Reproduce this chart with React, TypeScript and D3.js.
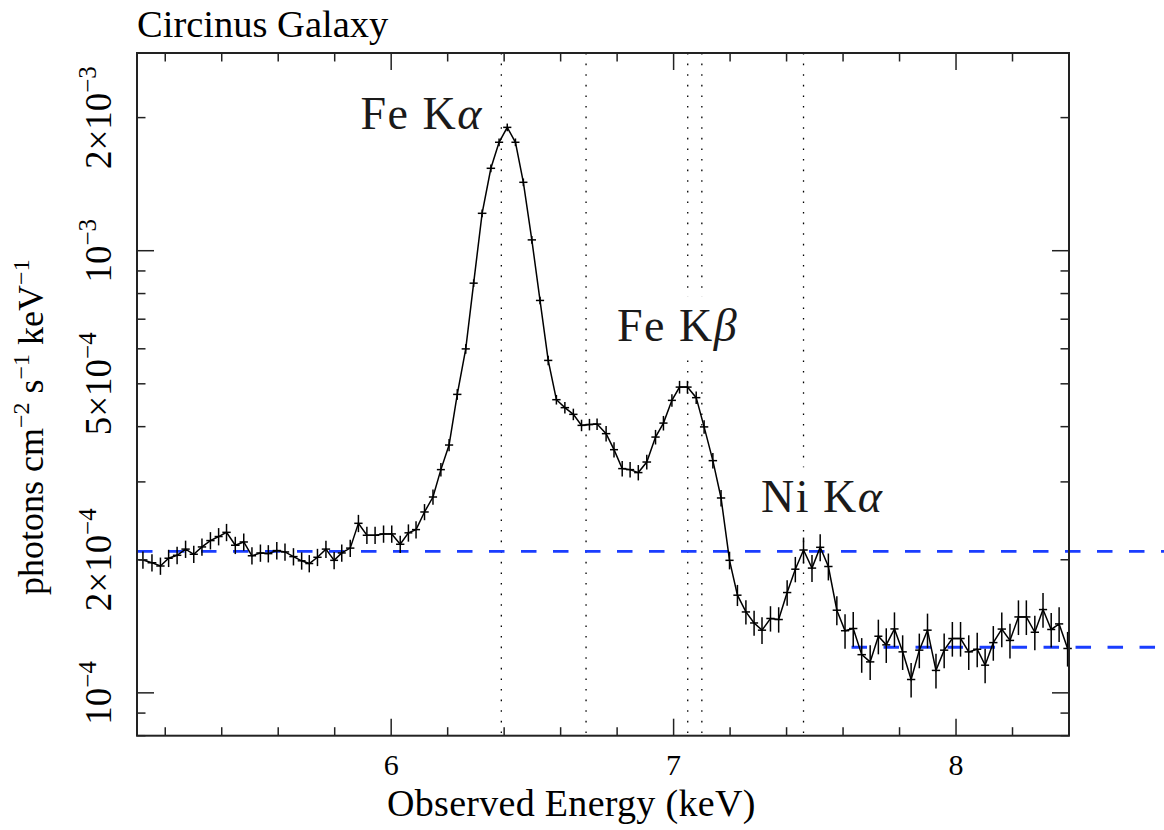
import React, { useEffect, useRef } from 'react';
import * as d3 from 'd3';

// bin centres (keV)
const energy = [
    5.121, 5.153, 5.183, 5.212, 5.242, 5.272, 5.301, 5.330, 5.360, 5.389,
    5.417, 5.448, 5.478, 5.507, 5.537, 5.565, 5.595, 5.624, 5.654, 5.683,
    5.710, 5.739, 5.769, 5.798, 5.825, 5.855, 5.884, 5.914, 5.943, 5.973,
    6.002, 6.032, 6.061, 6.088, 6.118, 6.148, 6.176, 6.205, 6.234, 6.264,
    6.292, 6.322, 6.353, 6.382, 6.411, 6.440, 6.468, 6.498, 6.527, 6.556,
    6.585, 6.615, 6.645, 6.674, 6.702, 6.729, 6.761, 6.789, 6.818, 6.846,
    6.875, 6.905, 6.936, 6.964, 6.994, 7.021, 7.049, 7.080, 7.108, 7.139,
    7.168, 7.198, 7.226, 7.256, 7.285, 7.313, 7.343, 7.372, 7.402, 7.431,
    7.460, 7.490, 7.519, 7.548, 7.578, 7.607, 7.636, 7.666, 7.696, 7.725,
    7.753, 7.782, 7.811, 7.841, 7.870, 7.899, 7.929, 7.958, 7.987, 8.016,
    8.045, 8.075, 8.103, 8.132, 8.162, 8.191, 8.221, 8.249, 8.279, 8.308,
    8.337, 8.365, 8.395,
];

// flux in units of 1e-4 photons cm^-2 s^-1 keV^-1
const flux1e4 = [
    1.998, 1.969, 1.936, 2.016, 2.047, 2.114, 2.058, 2.138, 2.210, 2.257,
    2.307, 2.157, 2.194, 2.042, 2.072, 2.065, 2.098, 2.083, 2.033, 1.989,
    1.961, 2.026, 2.114, 1.994, 2.072, 2.125, 2.418, 2.272, 2.272, 2.288,
    2.288, 2.168, 2.301, 2.340, 2.565, 2.773, 3.198, 3.635, 4.732, 5.997,
    8.445, 12.15, 15.36, 17.59, 19.01, 17.59, 14.28, 10.58, 7.718, 5.648,
    4.603, 4.416, 4.265, 4.027, 4.044, 4.054, 3.857, 3.548, 3.215, 3.198,
    3.149, 3.327, 3.789, 4.075, 4.587, 4.915, 4.915, 4.652, 3.995, 3.351,
    2.759, 1.994, 1.663, 1.524, 1.439, 1.386, 1.473, 1.465, 1.686, 1.904,
    2.104, 1.915, 2.134, 1.931, 1.538, 1.382, 1.398, 1.220, 1.175, 1.343,
    1.284, 1.395, 1.238, 1.072, 1.249, 1.386, 1.124, 1.249, 1.327, 1.327,
    1.238, 1.255, 1.155, 1.299, 1.394, 1.314, 1.485, 1.485, 1.371, 1.543,
    1.391, 1.432, 1.260,
];

// relative 1-sigma errors
const relErr = [
    0.045, 0.045, 0.045, 0.045, 0.045, 0.045, 0.045, 0.045, 0.045, 0.045,
    0.045, 0.045, 0.045, 0.045, 0.045, 0.045, 0.045, 0.045, 0.045, 0.045,
    0.045, 0.045, 0.045, 0.045, 0.045, 0.045, 0.045, 0.045, 0.045, 0.045,
    0.045, 0.045, 0.045, 0.045, 0.042, 0.040, 0.035, 0.032, 0.028, 0.025,
    0.020, 0.020, 0.020, 0.020, 0.020, 0.020, 0.020, 0.020, 0.020, 0.025,
    0.025, 0.030, 0.030, 0.030, 0.030, 0.030, 0.040, 0.040, 0.040, 0.040,
    0.040, 0.038, 0.038, 0.038, 0.033, 0.033, 0.033, 0.033, 0.035, 0.040,
    0.043, 0.046, 0.055, 0.063, 0.065, 0.069, 0.066, 0.066, 0.066, 0.066,
    0.067, 0.070, 0.070, 0.070, 0.075, 0.090, 0.090, 0.090, 0.090, 0.090,
    0.090, 0.090, 0.090, 0.090, 0.090, 0.090, 0.090, 0.090, 0.090, 0.090,
    0.090, 0.090, 0.090, 0.090, 0.090, 0.090, 0.090, 0.090, 0.090, 0.090,
    0.090, 0.090, 0.090,
];

// line energies (observed frame)
const lineEnergies = [6.39, 6.69, 7.05, 7.10, 7.46];

// continuum levels, with energy extent
const contLevels = [2.09e-4, 1.268e-4];
const contFrom = [5.1, 7.63];
const contTo = [8.75, 8.75];

// line labels
const labelNames = ['Fe K', 'Fe K', 'Ni K'];
const labelGreek = ['α', 'β', 'α'];
const labelEnergy = [6.108, 7.014, 7.526];
const labelFlux = [1.889e-3, 6.235e-4, 2.561e-4];

const xMajor = [6, 7, 8];
const yLabelled = [1e-4, 2e-4, 5e-4, 1e-3, 2e-3];
const yLabelBase = ['10', '2×10', '5×10', '10', '2×10'];
const yLabelExp = ['−4', '−4', '−4', '−3', '−3'];

const W = 1164;
const H = 830;
const margin = { top: 53, right: 95, bottom: 94.3, left: 137 };
const FONT = "'Liberation Serif', 'Times New Roman', serif";
const BLUE = '#1a3dff';

const App: React.FC = () => {
    const svgRef = useRef<SVGSVGElement | null>(null);

    useEffect(() => {
        const svg = d3.select(svgRef.current);
        svg.selectAll('*').remove();

        const x = d3.scaleLinear().domain([5.1, 8.4]).range([margin.left, W - margin.right]);
        const y = d3.scaleLog().domain([8e-5, 2.8e-3]).range([H - margin.bottom, margin.top]);
        const [x0, x1] = x.range();
        const [y0, y1] = y.range();

        const data = energy.map((e, i) => {
            const n = energy.length;
            const span = i === 0 ? energy[1] - energy[0]
                : i === n - 1 ? energy[n - 1] - energy[n - 2]
                : (energy[i + 1] - energy[i - 1]) / 2;
            return { e, f: flux1e4[i] * 1e-4, err: relErr[i], hw: span / 2 };
        });

        svg.append('rect').attr('width', W).attr('height', H).attr('fill', '#fff');

        // dotted line markers
        svg.append('g')
            .selectAll('line')
            .data(lineEnergies)
            .join('line')
            .attr('x1', d => x(d)).attr('x2', d => x(d))
            .attr('y1', y1).attr('y2', y0)
            .attr('stroke', '#000')
            .attr('stroke-width', 1.3)
            .attr('stroke-dasharray', '1.6,9');

        // labels with white boxes
        const lab = svg.append('g');
        labelNames.forEach((name, i) => {
            const g = lab.append('g');
            const t = g.append('text')
                .attr('x', x(labelEnergy[i]))
                .attr('y', y(labelFlux[i]))
                .attr('text-anchor', 'middle')
                .attr('font-family', FONT)
                .attr('font-size', 46)
                .attr('letter-spacing', 1.5)
                .attr('fill', '#1a1a1a');
            t.append('tspan').text(name);
            t.append('tspan').attr('font-style', 'italic').text(labelGreek[i]);
            const bb = (t.node() as SVGTextElement).getBBox();
            g.insert('rect', 'text')
                .attr('x', bb.x - 3).attr('y', bb.y - 4)
                .attr('width', bb.width + 6).attr('height', bb.height + 6)
                .attr('fill', '#fff');
        });

        // continuum levels
        svg.append('g')
            .selectAll('line')
            .data(contLevels)
            .join('line')
            .attr('x1', (d, i) => x(contFrom[i]))
            .attr('x2', (d, i) => x(contTo[i]))
            .attr('y1', d => y(d)).attr('y2', d => y(d))
            .attr('stroke', BLUE)
            .attr('stroke-width', 2.8)
            .attr('stroke-dasharray', '15.5,16.5');

        // spectrum
        const line = d3.line<typeof data[number]>()
            .x(d => x(d.e))
            .y(d => y(d.f));

        svg.append('path')
            .datum(data)
            .attr('fill', 'none')
            .attr('stroke', '#000')
            .attr('stroke-width', 1.5)
            .attr('d', line);

        const bars = svg.append('g').attr('stroke', '#000').attr('stroke-width', 1.5);
        bars.selectAll('line.h')
            .data(data)
            .join('line')
            .attr('class', 'h')
            .attr('x1', d => x(d.e - d.hw)).attr('x2', d => x(d.e + d.hw))
            .attr('y1', d => y(d.f)).attr('y2', d => y(d.f));
        bars.selectAll('line.v')
            .data(data)
            .join('line')
            .attr('class', 'v')
            .attr('x1', d => x(d.e)).attr('x2', d => x(d.e))
            .attr('y1', d => y(d.f * (1 - d.err))).attr('y2', d => y(d.f * (1 + d.err)));

        // frame + ticks
        const axis = svg.append('g').attr('stroke', '#222').attr('stroke-width', 1.5);
        const xMinor = d3.range(5.2, 8.41, 0.2).filter(v => !xMajor.some(m => Math.abs(m - v) < 1e-6));
        const tickX = (v: number, len: number) => {
            axis.append('line').attr('x1', x(v)).attr('x2', x(v)).attr('y1', y0).attr('y2', y0 - len);
            axis.append('line').attr('x1', x(v)).attr('x2', x(v)).attr('y1', y1).attr('y2', y1 + len);
        };
        xMajor.forEach(v => tickX(v, 17));
        xMinor.forEach(v => tickX(v, 8.5));

        const yMinor: number[] = [];
        [1e-5, 1e-4, 1e-3].forEach(dec => {
            for (let m = 1; m <= 9; m++) {
                const v = m * dec;
                if (v >= 8e-5 && v <= 2.8e-3) yMinor.push(v);
            }
        });
        yMinor.forEach(v => {
            const len = Math.abs(Math.log10(v) - Math.round(Math.log10(v))) < 1e-6 ? 17 : 8.5;
            axis.append('line').attr('x1', x0).attr('x2', x0 + len).attr('y1', y(v)).attr('y2', y(v));
            axis.append('line').attr('x1', x1).attr('x2', x1 - len).attr('y1', y(v)).attr('y2', y(v));
        });

        svg.append('rect')
            .attr('x', x0).attr('y', y1)
            .attr('width', x1 - x0).attr('height', y0 - y1)
            .attr('fill', 'none')
            .attr('stroke', '#222')
            .attr('stroke-width', 2);

        // tick labels
        const txt = svg.append('g').attr('fill', '#000');
        xMajor.forEach(v => {
            txt.append('text')
                .attr('x', x(v)).attr('y', 775)
                .attr('text-anchor', 'middle')
                .attr('font-family', FONT)
                .attr('font-size', 30)
                .text(String(v));
        });
        yLabelled.forEach((v, i) => {
            const t = txt.append('text')
                .attr('transform', `translate(111,${y(v)}) rotate(-90)`)
                .attr('text-anchor', 'middle')
                .attr('font-family', FONT)
                .attr('font-size', 37);
            t.append('tspan').text(yLabelBase[i]);
            t.append('tspan').attr('dy', -15).attr('font-size', 25).text(yLabelExp[i]);
        });

        // axis titles
        txt.append('text')
            .attr('x', 387).attr('y', 816)
            .attr('font-family', FONT)
            .attr('font-size', 38)
            .attr('letter-spacing', 0.3)
            .text('Observed Energy (keV)');

        const yt = txt.append('text')
            .attr('transform', 'translate(43,595) rotate(-90)')
            .attr('font-family', FONT)
            .attr('font-size', 36);
        yt.append('tspan').text('photons cm');
        yt.append('tspan').attr('dy', -14).attr('font-size', 24).text('−2');
        yt.append('tspan').attr('dy', 14).text(' s');
        yt.append('tspan').attr('dy', -14).attr('font-size', 24).text('−1');
        yt.append('tspan').attr('dy', 14).text(' keV');
        yt.append('tspan').attr('dy', -14).attr('font-size', 24).text('−1');

        txt.append('text')
            .attr('x', x0).attr('y', 37)
            .attr('font-family', FONT)
            .attr('font-size', 38.5)
            .text('Circinus Galaxy');
    }, []);

    return (
        <svg
            ref={svgRef}
            width={W}
            height={H}
            style={{ position: 'absolute', left: 0, top: 0, display: 'block' }}
        />
    );
};

export default App;
